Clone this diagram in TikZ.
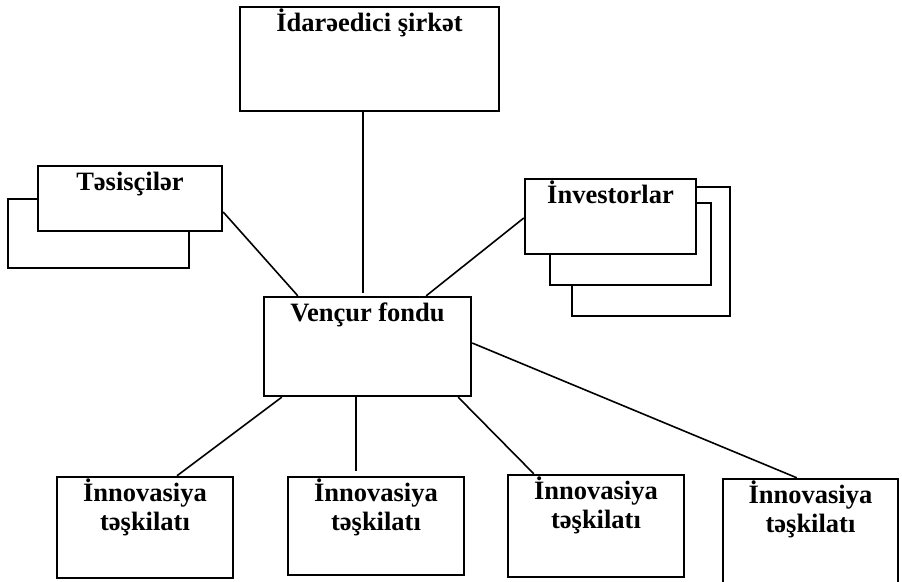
\documentclass[tikz,border=0pt]{standalone}
\usepackage{fontspec}
\setmainfont{Liberation Serif}

\begin{document}
\begin{tikzpicture}[x=1pt,y=-1pt,line join=miter,
    box/.style={draw,line width=2.4pt,fill=white,inner sep=0pt},
    back/.style={draw,line width=1.6pt,fill=white,inner sep=0pt},
    ttl/.style={anchor=base,inner sep=0pt,font=\fontsize{26.5}{29}\selectfont\bfseries},
    link/.style={line width=1.6pt}]
        \useasboundingbox (0,0) rectangle (902,581);
        % shadow boxes behind
        \node[back,minimum width=181pt,minimum height=69pt] (tesisB) at (98.5,233.5) {};
        \node[back,minimum width=158pt,minimum height=129pt] (investC) at (651,251.5) {};
        \node[back,minimum width=161pt,minimum height=82pt] (investB) at (630.5,244) {};
        % main boxes
        \node[box,minimum width=259pt,minimum height=104pt] (idare) at (369.5,59) {};
        \node[box,minimum width=184pt,minimum height=65pt] (tesis) at (130,198.5) {};
        \node[box,minimum width=171pt,minimum height=75pt] (invest) at (610.5,216.5) {};
        \node[box,minimum width=207pt,minimum height=99pt] (vf) at (367.5,346.5) {};
        \node[box,minimum width=176pt,minimum height=101pt] (inn1) at (145,527.5) {};
        \node[box,minimum width=176pt,minimum height=98pt] (inn2) at (376,526) {};
        \node[box,minimum width=176pt,minimum height=102pt] (inn3) at (596,526) {};
        \node[box,minimum width=175pt,minimum height=108pt] (inn4) at (810.5,533) {};
        % titles
        \node[ttl] (idareT) at ([yshift=-26pt]idare.north) {İdarəedici şirkət};
        \node[ttl] (tesisT) at ([yshift=-26pt]tesis.north) {Təsisçilər};
        \node[ttl] (investT) at ([yshift=-26pt]invest.north) {İnvestorlar};
        \node[ttl] (vfT) at ([yshift=-26pt]vf.north) {Vençur fondu};
        \foreach \i in {1,2,3,4} {
            \node[ttl] (inn\i a) at ([yshift=-26pt]inn\i.north) {İnnovasiya};
            \node[ttl] (inn\i b) at ([yshift=-55pt]inn\i.north) {təşkilatı};
        }
        % connectors
        \draw[link] ([xshift=-6.5pt]idare.south) -- ([xshift=-6.5pt,yshift=3pt]idare.south |- vf.north);
        \draw[link] ([yshift=-13.5pt]tesis.east) -- ([xshift=35pt]vf.north west);
        \draw[link] ([yshift=-1.5pt]invest.west) -- ([xshift=-46pt]vf.north east);
        \draw[link] ([xshift=19pt]vf.south west) -- ([xshift=32pt]inn1.north);
        \draw[link] ([xshift=-11.5pt]vf.south) -- ([xshift=-11.5pt,yshift=5pt]vf.south |- inn2.north);
        \draw[link] ([xshift=-14pt]vf.south east) -- ([xshift=27pt]inn3.north west);
        \draw[link] ([yshift=3.5pt]vf.east) -- ([xshift=75pt]inn4.north west);
\end{tikzpicture}
\end{document}
